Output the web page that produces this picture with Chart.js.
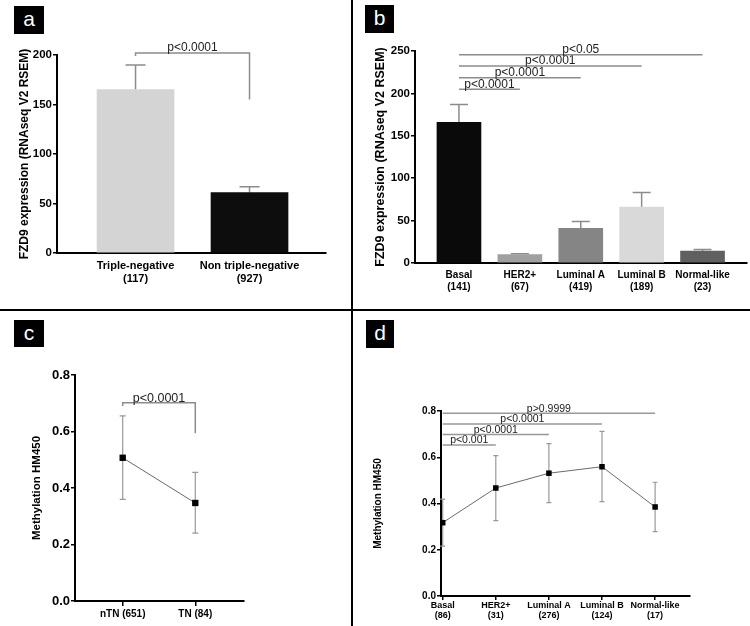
<!DOCTYPE html>
<html>
<head>
<meta charset="utf-8">
<script src="https://cdn.jsdelivr.net/npm/chart.js@4.4.1/dist/chart.umd.min.js"></script>
<style>
  html, body { margin: 0; padding: 0; background: #fff; }
  body { width: 750px; height: 626px; position: relative; overflow: hidden;
         font-family: "Liberation Sans", Arial, sans-serif; }
  .panel { position: absolute; }
  .tag { position: absolute; background: #000; color: #fff; font-size: 21px;
         line-height: 26px; text-align: center; }
  .rule { position: absolute; background: #000; }
</style>
</head>
<body>
<div class="panel" style="left:0;top:0;width:340px;height:300px"><canvas id="chartA"></canvas></div>
<div class="panel" style="left:355px;top:0;width:395px;height:305px"><canvas id="chartB"></canvas></div>
<div class="panel" style="left:0;top:313px;width:350px;height:313px"><canvas id="chartC"></canvas></div>
<div class="panel" style="left:355px;top:313px;width:395px;height:313px"><canvas id="chartD"></canvas></div>

<div class="rule" style="left:351px;top:0;width:2px;height:626px"></div>
<div class="rule" style="left:0;top:309px;width:750px;height:2px"></div>

<div class="tag" style="left:14px;top:6px;width:30px;height:28px">a</div>
<div class="tag" style="left:365px;top:5px;width:29px;height:28px">b</div>
<div class="tag" style="left:14px;top:320px;width:30px;height:27px">c</div>
<div class="tag" style="left:366px;top:320px;width:28px;height:28px">d</div>

<script>
// ---- data ----
const groupsA = ['Triple-negative', 'Non triple-negative'];
const countsA = [117, 927];
const meanA = [165, 61];
const upperA = [190, 67];
const ticksA = [0, 50, 100, 150, 200];
const sigA = [{ from: 0, to: 1, y: 202, yFrom: 199, yTo: 155, p: 'p<0.0001' }];

const groupsB = ['Basal', 'HER2+', 'Luminal A', 'Luminal B', 'Normal-like'];
const countsB = [141, 67, 419, 189, 23];
const meanB = [166, 10, 41, 66, 14];
const upperB = [187, 11, 49, 83, 16];
const ticksB = [0, 50, 100, 150, 200, 250];
const sigB = [
  { from: 0, to: 1, y: 205, p: 'p<0.0001' },
  { from: 0, to: 2, y: 218.6, p: 'p<0.0001' },
  { from: 0, to: 3, y: 232.4, p: 'p<0.0001' },
  { from: 0, to: 4, y: 245.7, p: 'p<0.05' },
];

const groupsC = ['nTN', 'TN'];
const countsC = [651, 84];
const meanC = [0.507, 0.347];
const lowC = [0.36, 0.24];
const highC = [0.655, 0.455];
const ticksC = [0, 0.2, 0.4, 0.6, 0.8];
const sigC = [{ from: 0, to: 1, y: 0.702, yFrom: 0.69, yTo: 0.594, p: 'p<0.0001' }];

const groupsD = ['Basal', 'HER2+', 'Luminal A', 'Luminal B', 'Normal-like'];
const countsD = [86, 31, 276, 124, 17];
const meanD = [0.317, 0.467, 0.531, 0.559, 0.385];
const lowD = [0.216, 0.326, 0.404, 0.408, 0.278];
const highD = [0.419, 0.607, 0.659, 0.712, 0.492];
const ticksD = [0, 0.2, 0.4, 0.6, 0.8];
const sigD = [
  { from: 0, to: 1, y: 0.653, p: 'p<0.001' },
  { from: 0, to: 2, y: 0.698, p: 'p<0.0001' },
  { from: 0, to: 3, y: 0.744, p: 'p<0.0001' },
  { from: 0, to: 4, y: 0.790, p: 'p>0.9999' },
];

const FONT = '"Liberation Sans", Arial, sans-serif';

// vertical error bars, drawn under the marks
function errorBars(low, high, st) {
  return {
    id: 'errorBars',
    beforeDatasetsDraw(chart) {
      const { ctx, scales: { x, y } } = chart;
      ctx.save();
      ctx.strokeStyle = st.color;
      ctx.lineWidth = st.width;
      low.forEach((lo, i) => {
        const px = x.getPixelForValue(i);
        const y1 = y.getPixelForValue(lo);
        const y2 = y.getPixelForValue(high[i]);
        ctx.beginPath();
        ctx.moveTo(px, y1); ctx.lineTo(px, y2);
        ctx.moveTo(px - st.cap, y2); ctx.lineTo(px + st.cap, y2);
        if (st.capLow) { ctx.moveTo(px - st.cap, y1); ctx.lineTo(px + st.cap, y1); }
        ctx.stroke();
      });
      ctx.restore();
    }
  };
}

// significance brackets with p-value text
function brackets(list, st) {
  return {
    id: 'brackets',
    afterDraw(chart) {
      const { ctx, scales: { x, y } } = chart;
      ctx.save();
      ctx.strokeStyle = st.color;
      ctx.lineWidth = st.width;
      ctx.fillStyle = '#222';
      ctx.font = st.size + 'px ' + FONT;
      ctx.textAlign = 'center';
      ctx.textBaseline = 'alphabetic';
      list.forEach(s => {
        const x1 = x.getPixelForValue(s.from);
        const x2 = x.getPixelForValue(s.to);
        const py = y.getPixelForValue(s.y);
        ctx.beginPath();
        if (s.yFrom !== undefined) {
          ctx.moveTo(x1, y.getPixelForValue(s.yFrom));
          ctx.lineTo(x1, py);
          ctx.lineTo(x2, py);
          ctx.lineTo(x2, y.getPixelForValue(s.yTo));
        } else {
          ctx.moveTo(x1, py);
          ctx.lineTo(x2, py);
        }
        ctx.stroke();
        ctx.fillText(s.p, (x1 + x2) / 2, py - st.gap);
      });
      ctx.restore();
    }
  };
}

function scalesFor(p) {
  return {
    x: {
      type: 'linear', min: p.xMin, max: p.xMax, offset: false,
      afterBuildTicks: s => { s.ticks = p.labels.map((_, i) => ({ value: i })); },
      afterFit: s => { s.height = p.xh; },
      grid: { offset: false, drawOnChartArea: false, color: p.xTickColor, lineWidth: 1.5, tickLength: p.xTickLen },
      border: { color: '#000', width: 2 },
      ticks: {
        color: '#000', autoSkip: false, maxRotation: 0, padding: p.xPad,
        font: { family: FONT, size: p.xSize, weight: 'bold', lineHeight: p.xLine },
        callback: v => p.labels[v]
      }
    },
    y: {
      min: p.yTicks[0], max: p.yTicks[p.yTicks.length - 1],
      afterBuildTicks: s => { s.ticks = p.yTicks.map(v => ({ value: v })); },
      afterFit: s => { s.width = p.yw; },
      grid: { drawOnChartArea: false, color: '#000', lineWidth: 1.5, tickLength: 4 },
      border: { color: '#000', width: 2 },
      ticks: {
        color: '#000', padding: 1,
        font: { family: FONT, size: p.ySize, weight: 'bold' },
        callback: v => p.fmt(v)
      },
      title: {
        display: true, text: p.yTitle, color: '#000',
        font: { family: FONT, size: p.titleSize, weight: 'bold' },
        padding: { top: p.titlePad, bottom: 0 }
      }
    }
  };
}

const common = {
  responsive: true,
  maintainAspectRatio: false,
  animation: false,
  events: [],
  plugins: { legend: { display: false }, tooltip: { enabled: false } },
};

// ---- panel a ----
new Chart(document.getElementById('chartA'), {
  type: 'bar',
  data: {
    datasets: [{
      data: meanA.map((v, i) => ({ x: i, y: v })),
      backgroundColor: ['#d4d4d4', '#0d0d0d'],
      barThickness: 77,
    }]
  },
  options: {
    ...common,
    layout: { padding: { top: 55, right: 14, left: 0, bottom: 0 } },
    scales: scalesFor({
      xMin: -0.689, xMax: 1.671, xh: 47, xTickColor: 'rgba(0,0,0,0)', xTickLen: 4, xPad: 2,
      xSize: 11, xLine: 1.2,
      labels: groupsA.map((g, i) => [g, '(' + countsA[i] + ')']),
      yTicks: ticksA, yw: 57, ySize: 11.5, fmt: v => String(v),
      yTitle: 'FZD9 expression (RNAseq V2 RSEM)', titleSize: 12, titlePad: 17.8
    })
  },
  plugins: [
    errorBars(meanA, upperA, { color: '#8c8c8c', width: 1.5, cap: 10 }),
    brackets(sigA, { color: '#8c8c8c', width: 1.5, size: 12, gap: 2 })
  ]
});

// ---- panel b ----
new Chart(document.getElementById('chartB'), {
  type: 'bar',
  data: {
    datasets: [{
      data: meanB.map((v, i) => ({ x: i, y: v })),
      backgroundColor: ['#0a0a0a', '#a0a0a0', '#858585', '#d9d9d9', '#606060'],
      barThickness: 44,
    }]
  },
  options: {
    ...common,
    layout: { padding: { top: 51, right: 3, left: 0, bottom: 0 } },
    scales: scalesFor({
      xMin: -0.722, xMax: 4.73, xh: 42, xTickColor: 'rgba(0,0,0,0)', xTickLen: 4, xPad: 2,
      xSize: 10, xLine: 1.2,
      labels: groupsB.map((g, i) => [g, '(' + countsB[i] + ')']),
      yTicks: ticksB, yw: 60, ySize: 11.5, fmt: v => String(v),
      yTitle: 'FZD9 expression (RNAseq V2 RSEM)', titleSize: 12.5, titlePad: 18.5
    })
  },
  plugins: [
    errorBars(meanB, upperB, { color: '#8c8c8c', width: 1.5, cap: 9 }),
    brackets(sigB, { color: '#8c8c8c', width: 1.5, size: 12, gap: 1.5 })
  ]
});

// ---- panel c ----
new Chart(document.getElementById('chartC'), {
  type: 'line',
  data: {
    datasets: [{
      data: meanC.map((v, i) => ({ x: i, y: v })),
      borderColor: '#6a6a6a', borderWidth: 1,
      pointStyle: 'rect', pointRadius: 4.5, pointBackgroundColor: '#000', pointBorderWidth: 0,
    }]
  },
  options: {
    ...common,
    layout: { padding: { top: 62, right: 106, left: 0, bottom: 0 } },
    scales: scalesFor({
      xMin: -0.657, xMax: 1.671, xh: 25, xTickColor: '#000', xTickLen: 5, xPad: 2,
      xSize: 10, xLine: 1.2,
      labels: groupsC.map((g, i) => g + ' (' + countsC[i] + ')'),
      yTicks: ticksC, yw: 75, ySize: 13, fmt: v => v.toFixed(1),
      yTitle: 'Methylation HM450', titleSize: 11.5, titlePad: 30
    })
  },
  plugins: [
    errorBars(lowC, highC, { color: '#999', width: 1.2, cap: 3, capLow: true }),
    brackets(sigC, { color: '#8c8c8c', width: 1.5, size: 12.5, gap: 1 })
  ]
});

// ---- panel d ----
new Chart(document.getElementById('chartD'), {
  type: 'line',
  data: {
    datasets: [{
      data: meanD.map((v, i) => ({ x: i, y: v })),
      borderColor: '#6a6a6a', borderWidth: 1,
      pointStyle: 'rect', pointRadius: 3.9, pointBackgroundColor: '#000', pointBorderWidth: 0,
    }]
  },
  options: {
    ...common,
    layout: { padding: { top: 98, right: 60, left: 0, bottom: 0 } },
    scales: scalesFor({
      xMin: -0.032, xMax: 4.657, xh: 30, xTickColor: '#000', xTickLen: 4, xPad: 1,
      xSize: 9, xLine: 1.05,
      labels: groupsD.map((g, i) => [g, '(' + countsD[i] + ')']),
      yTicks: ticksD, yw: 86, ySize: 10, fmt: v => v.toFixed(1),
      yTitle: 'Methylation HM450', titleSize: 10, titlePad: 17
    })
  },
  plugins: [
    errorBars(lowD, highD, { color: '#999', width: 1.2, cap: 2.5, capLow: true }),
    brackets(sigD, { color: '#999', width: 1.5, size: 10.5, gap: 1.5 })
  ]
});
</script>
</body>
</html>
